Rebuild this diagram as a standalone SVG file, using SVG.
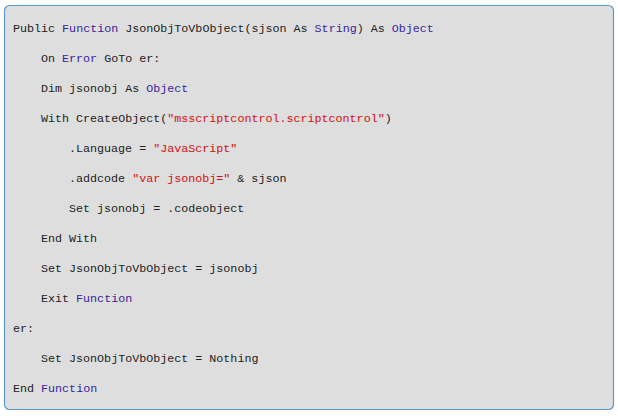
<svg xmlns="http://www.w3.org/2000/svg" width="618" height="416" viewBox="0 0 618 416">
<style>
text{font-family:"Liberation Mono","DejaVu Sans Mono",monospace;font-size:11.7px;fill:#222;white-space:pre}
.k{fill:#3a1f9a}.s{fill:#d01010}
</style>
<rect x="4.5" y="5.5" width="609" height="404" rx="5" fill="#dedede" stroke="#5a9ac6" stroke-width="1.2"/>
<g id="code">
<text x="13" y="32">Public <tspan class="k">Function</tspan> JsonObjToVbObject(sjson As <tspan class="k">String</tspan>) As <tspan class="k">Object</tspan></text>
<text x="41" y="62">On <tspan class="k">Error</tspan> GoTo er:</text>
<text x="41" y="92">Dim jsonobj As <tspan class="k">Object</tspan></text>
<text x="41" y="122">With CreateObject(<tspan class="s">"msscriptcontrol.scriptcontrol"</tspan>)</text>
<text x="69" y="152">.Language = <tspan class="s">"JavaScript"</tspan></text>
<text x="69" y="182">.addcode <tspan class="s">"var jsonobj="</tspan> &amp; sjson</text>
<text x="69" y="212">Set jsonobj = .codeobject</text>
<text x="41" y="242">End With</text>
<text x="41" y="272">Set JsonObjToVbObject = jsonobj</text>
<text x="41" y="302">Exit <tspan class="k">Function</tspan></text>
<text x="13" y="332">er:</text>
<text x="41" y="362">Set JsonObjToVbObject = Nothing</text>
<text x="13" y="392">End <tspan class="k">Function</tspan></text>
</g>
</svg>
